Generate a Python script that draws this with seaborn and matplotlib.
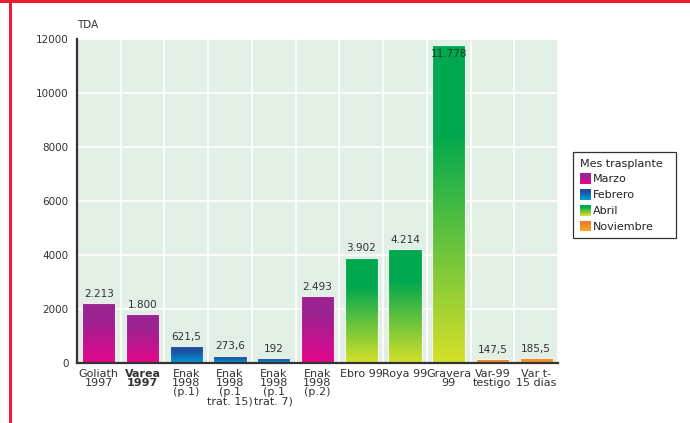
import numpy as np
import pandas as pd
import matplotlib
matplotlib.use("Agg")
import matplotlib.pyplot as plt
import seaborn as sns
from matplotlib.colors import to_rgb
from matplotlib.legend_handler import HandlerBase
from matplotlib.patches import Rectangle

# ---------------- data ----------------
categories = ["Goliath\n1997", "Varea\n1997", "Enak\n1998\n(p.1)", "Enak\n1998\n(p.1\ntrat. 15)",
              "Enak\n1998\n(p.1\ntrat. 7)", "Enak\n1998\n(p.2)", "Ebro 99", "Roya 99",
              "Gravera\n99", "Var-99\ntestigo", "Var t-\n15 dias"]
values = [2213, 1800, 621.5, 273.6, 192, 2493, 3902, 4214, 11778, 147.5, 185.5]
months = ["Marzo", "Marzo", "Febrero", "Febrero", "Febrero", "Marzo",
          "Abril", "Abril", "Abril", "Noviembre", "Noviembre"]
value_labels = ["2.213", "1.800", "621,5", "273,6", "192", "2.493",
                "3.902", "4.214", "11.778", "147,5", "185,5"]
month_order = ["Marzo", "Febrero", "Abril", "Noviembre"]
y_ticks = [0, 2000, 4000, 6000, 8000, 10000, 12000]

# gradient colours (top, bottom) per month
grad_top = {"Marzo": "#9b2291", "Febrero": "#1c4f9e", "Abril": "#00a84f", "Noviembre": "#ef7d2f"}
grad_bot = {"Marzo": "#e4068b", "Febrero": "#0099da", "Abril": "#d6e02a", "Noviembre": "#f8aa1e"}

df = pd.DataFrame({"cat": categories, "val": values, "mes": months})

sns.set_style("white")
plt.rcParams["font.family"] = ["DejaVu Sans"]
TXT = "#333333"

fig = plt.figure(figsize=(6.9, 4.23), dpi=100)
ax = fig.add_axes([77 / 690, 60 / 423, 481 / 690, 324 / 423])
ax.set_facecolor("#e2efe5")

palette = {m: grad_top[m] for m in month_order}
sns.barplot(data=df, x="cat", y="val", hue="mes", hue_order=month_order, dodge=False,
            palette=palette, width=0.76, legend=False, ax=ax, saturation=1, zorder=3)


def grad_colors(top, bot, n=256, solid=0.28):
    t = np.linspace(0, 1, n)  # 0 bottom, 1 top
    f = np.clip(t / (1 - solid), 0, 1)[:, None]
    return (1 - f) * np.array(to_rgb(bot)) + f * np.array(to_rgb(top))


for p in list(ax.patches):
    h = p.get_height()
    if not np.isfinite(h) or h <= 0:
        continue
    x0 = p.get_x()
    w = p.get_width()
    idx = int(round(x0 + w / 2))
    m = months[idx]
    img = grad_colors(grad_top[m], grad_bot[m])[:, None, :]
    im = ax.imshow(img, extent=[x0, x0 + w, 0, h], origin="lower", aspect="auto",
                   interpolation="nearest", zorder=3.1)
    im.set_clip_path(p)
    p.set_facecolor("none")
    p.set_edgecolor((1, 1, 1, 0.9))
    p.set_linewidth(0.8)
    p.set_zorder(3.2)
    lab = value_labels[idx]
    if h > 10000:
        ax.annotate(lab, (x0 + w / 2, h), xytext=(0, -3), textcoords="offset points",
                    ha="center", va="top", fontsize=7.5, color="#1d3d2a", zorder=4)
    else:
        ax.annotate(lab, (x0 + w / 2, h), xytext=(0, 3), textcoords="offset points",
                    ha="center", va="bottom", fontsize=7.5, color=TXT, zorder=4)

ax.set_xlim(-0.5, len(categories) - 0.5)
ax.set_ylim(0, 12000)
ax.set_yticks(y_ticks)
ax.set_yticklabels([str(v) for v in y_ticks])
ax.set_xticks(range(len(categories)))
ax.set_xticklabels(categories, fontsize=8, color=TXT, linespacing=0.92)
ax.get_xticklabels()[1].set_fontweight("bold")
ax.set_xticks(np.arange(0.5, len(categories), 1.0), minor=True)
ax.set_xlabel("")
ax.set_ylabel("")

ax.tick_params(axis="y", which="major", direction="in", length=12, width=1, color="#555555",
               labelsize=7.5, labelcolor=TXT, pad=6)
ax.tick_params(axis="x", which="major", length=0, pad=4)
ax.tick_params(axis="x", which="minor", direction="in", length=5, width=1.2, color="#333333")

ax.set_axisbelow(True)
ax.grid(axis="y", which="major", color="white", linewidth=1.2)
ax.grid(axis="x", which="minor", color="white", linewidth=1.2)
for s in ["top", "right"]:
    ax.spines[s].set_visible(False)
for s in ["left", "bottom"]:
    ax.spines[s].set_color("#333333")
    ax.spines[s].set_linewidth(1.6)
    ax.spines[s].set_zorder(5)

ax.text(0, 1.043, "TDA", transform=ax.transAxes, ha="left", va="center", fontsize=7.5, color=TXT)


# legend with gradient swatches
class GradHandler(HandlerBase):
    def __init__(self, top, bot):
        super().__init__()
        self.top, self.bot = top, bot

    def create_artists(self, legend, orig_handle, xdescent, ydescent, width, height, fontsize, trans):
        n = 14
        cols = grad_colors(self.top, self.bot, n=n, solid=0.2)
        arts = []
        for i in range(n):
            r = Rectangle((-xdescent, -ydescent + height * i / n), width, height / n * 1.05,
                          facecolor=cols[i], edgecolor="none", transform=trans)
            arts.append(r)
        return arts


handles = [Rectangle((0, 0), 1, 1) for _ in month_order]
hmap = {h: GradHandler(grad_top[m], grad_bot[m]) for h, m in zip(handles, month_order)}
leg = fig.legend(handles, month_order, handler_map=hmap, loc="upper left",
                 bbox_to_anchor=(573 / 690, 1 - 238 / 423, 103 / 690, 86 / 423),
                 mode="expand", borderaxespad=0, title="Mes trasplante",
                 fontsize=8, title_fontsize=8, frameon=True, fancybox=False,
                 edgecolor="#333333", framealpha=1, handlelength=1.0, handleheight=1.1,
                 handletextpad=0.2, labelspacing=0.42, borderpad=0.6, alignment="left")
leg.get_frame().set_linewidth(0.9)
for t in leg.get_texts():
    t.set_color("#222222")
leg.get_title().set_color("#222222")

# red frame lines
fig.add_artist(Rectangle((0, 1 - 3 / 423), 1, 3 / 423, transform=fig.transFigure,
                         facecolor="#ee1c2e", edgecolor="none"))
fig.add_artist(Rectangle((9 / 690, 0), 2.5 / 690, 1, transform=fig.transFigure,
                         facecolor="#ee1c2e", edgecolor="none"))

fig.savefig("out.png", dpi=100)
